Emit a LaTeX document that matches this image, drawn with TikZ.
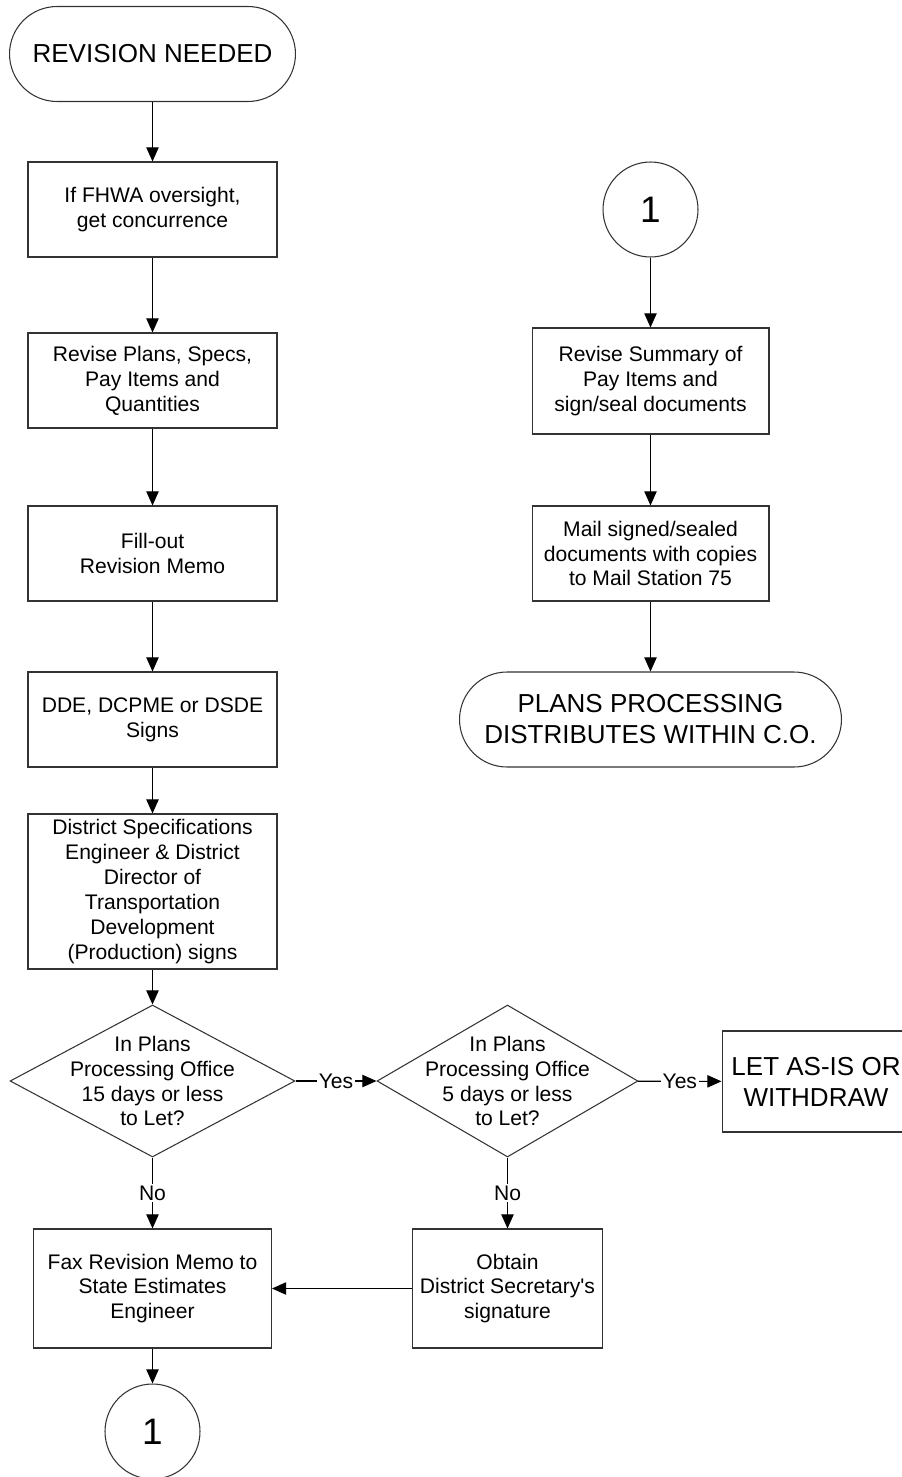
\documentclass[tikz,border=0pt]{standalone}
\usepackage{fontspec}
\setmainfont{Liberation Sans}
\usetikzlibrary{arrows.meta,shapes.geometric}

\begin{document}
\begin{tikzpicture}[x=0.02cm, y=-0.02cm,
    txt/.style={font=\fontsize{12}{14.2}\selectfont, align=center},
    bigtxt/.style={font=\fontsize{14.8}{17.6}\selectfont, align=center},
    stepbox/.style={rectangle, draw=black!80, line width=0.6pt, inner sep=0pt, txt},
    terminal/.style={rectangle, draw=black!80, line width=0.6pt, rounded corners=0.95cm, minimum height=1.9cm, inner sep=0pt, bigtxt},
    connector/.style={circle, draw=black!80, line width=0.6pt, minimum size=1.9cm, inner sep=0pt, font=\fontsize{21}{24}\selectfont},
    decision/.style={diamond, draw=black!80, line width=0.6pt, inner sep=0pt, minimum height=3.04cm},
    flow/.style={line width=0.6pt, -{Triangle[length=8pt,width=7pt]}}]
  \useasboundingbox (0,0) rectangle (902,1477);

  \node[terminal, minimum width=5.72cm] (start) at (152.5, 54) {REVISION NEEDED};
  \node[stepbox, minimum width=4.98cm, minimum height=1.9cm] (fhwa) at (152.5, 209.5) {If FHWA oversight,\\get concurrence};
  \node[stepbox, minimum width=4.98cm, minimum height=1.9cm] (revise) at (152.5, 380.5) {Revise Plans, Specs,\\Pay Items and\\Quantities};
  \node[stepbox, minimum width=4.98cm, minimum height=1.9cm] (memo) at (152.5, 553.5) {Fill-out\\Revision Memo};
  \node[stepbox, minimum width=4.98cm, minimum height=1.9cm] (dde) at (152.5, 719.5) {DDE, DCPME or DSDE\\Signs};
  \node[stepbox, minimum width=4.98cm, minimum height=3.1cm] (dse) at (152.5, 891.5) {District Specifications\\Engineer \& District\\Director of\\Transportation\\Development\\(Production) signs};
  \node[decision, minimum width=5.7cm, label={[txt]center:In Plans\\Processing Office\\15 days or less\\to Let?}] (days15) at (152.5, 1081) {};
  \node[decision, minimum width=5.22cm, label={[txt]center:In Plans\\Processing Office\\5 days or less\\to Let?}] (days5) at (507.5, 1081) {};
  \node[stepbox, minimum width=3.76cm, minimum height=2.02cm, bigtxt] (letasis) at (816, 1081.5) {LET AS-IS OR\\WITHDRAW};
  \node[stepbox, minimum width=4.76cm, minimum height=2.38cm] (fax) at (152.5, 1288.5) {Fax Revision Memo to\\State Estimates\\Engineer};
  \node[stepbox, minimum width=3.8cm, minimum height=2.38cm] (obtain) at (507.5, 1288.5) {Obtain\\District Secretary\textquotesingle s\\signature};
  \node[connector] (out1) at (152.5, 1431.5) {1};

  \node[connector] (in1) at (650.5, 209.5) {1};
  \node[stepbox, minimum width=4.74cm, minimum height=2.12cm] (summary) at (650.5, 381) {Revise Summary of\\Pay Items and\\sign/seal documents};
  \node[stepbox, minimum width=4.74cm, minimum height=1.9cm] (mail) at (650.5, 553.5) {Mail signed/sealed\\documents with copies\\to Mail Station 75};
  \node[terminal, minimum width=7.64cm] (distrib) at (650.5, 719.5) {PLANS PROCESSING\\DISTRIBUTES WITHIN C.O.};

  \foreach \source/\dest in {start/fhwa, fhwa/revise, revise/memo, memo/dde, dde/dse, dse/days15, obtain/fax, fax/out1, in1/summary, summary/mail, mail/distrib}
    \path (\source) edge[flow] (\dest);

  \foreach \source/\dest/\answer in {days15/days5/Yes, days5/letasis/Yes, days15/fax/No, days5/obtain/No}
    \path (\source) edge[flow] node[txt, fill=white, inner sep=1pt] {\answer} (\dest);
\end{tikzpicture}
\end{document}
